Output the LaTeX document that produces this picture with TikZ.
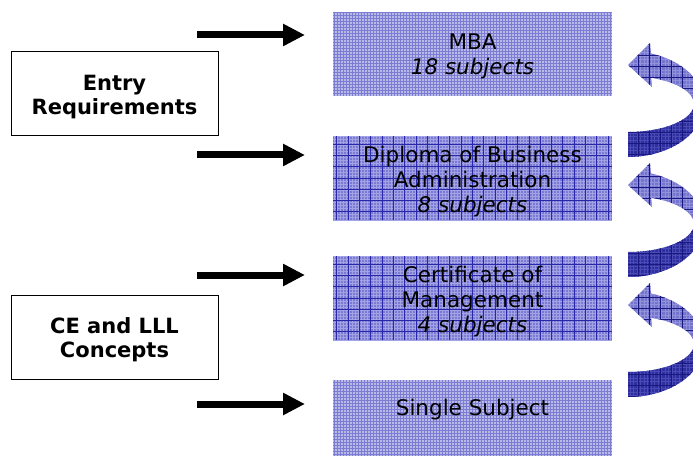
\documentclass[tikz,border=0pt]{standalone}
\usepackage{fontspec}
\setmainfont{DejaVu Sans}
\usetikzlibrary{arrows.meta,calc}

\definecolor{lightfill}{RGB}{186,186,232}
\definecolor{lightline}{RGB}{124,124,210}
\definecolor{darkfill}{RGB}{122,122,210}
\definecolor{darkfine}{RGB}{162,162,228}
\definecolor{darkline}{RGB}{40,40,168}
\definecolor{arrowlightfill}{RGB}{116,116,204}
\definecolor{arrowlightfine}{RGB}{146,146,220}
\definecolor{arrowdarkfill}{RGB}{46,46,160}
\definecolor{arrowdarkfine}{RGB}{74,74,180}
\definecolor{arrowgrid}{RGB}{24,24,128}

\tikzset{
  level/.style={minimum width=279pt, minimum height=84pt, inner sep=0pt},
  leveltext/.style={align=center, inner sep=0pt, font=\fontsize{21.5}{25}\selectfont},
  lightbox/.style={level, fill=lightfill,
    path picture={\draw[lightline, line width=0.6pt, step=3pt]
      (path picture bounding box.south west) grid (path picture bounding box.north east);}},
  darkbox/.style={level, fill=darkfill,
    path picture={
      \draw[darkfine, line width=0.6pt, step=3pt]
        (path picture bounding box.south west) grid (path picture bounding box.north east);
      \draw[darkline, line width=0.9pt, step=11.3pt]
        (path picture bounding box.south west) grid (path picture bounding box.north east);}},
  sidebox/.style={draw=black, line width=0.9pt, fill=white, minimum width=207pt,
    minimum height=84pt, inner sep=0pt},
  sidetext/.style={align=center, inner sep=0pt,
    font=\bfseries\fontsize{21}{24.5}\selectfont},
  feed/.style={line width=7pt, -{Triangle[length=22pt,width=21pt]}},
  curvetex/.style={path picture={
      \draw[#1, line width=0.6pt, step=3.5pt]
        (path picture bounding box.south west) grid (path picture bounding box.north east);
      \draw[arrowgrid, line width=0.9pt, step=11pt]
        (path picture bounding box.south west) grid (path picture bounding box.north east);}},
}

\begin{document}
\begin{tikzpicture}[x=1pt,y=1pt]
\useasboundingbox (0,0) rectangle (693,-457);

% programme levels
\node[lightbox] (mba)    at (472.5,-54)  {};
\node[darkbox]  (dba)    at (472.5,-178) {};
\node[darkbox]  (cert)   at (472.5,-298) {};
\node[lightbox, minimum height=76pt] (single) at (472.5,-418) {};

\node[leveltext] (mbat)    at ($(mba)+(0,-2.5)$)    {MBA\\\itshape 18 subjects};
\node[leveltext] (dbat)    at ($(dba)+(0,-4)$)      {Diploma of Business\\Administration\\\itshape 8 subjects};
\node[leveltext] (certt)   at ($(cert)+(0,-4)$)     {Certificate of\\Management\\\itshape 4 subjects};
\node[leveltext] (singlet) at ($(single)+(0,8)$)    {Single Subject};

% side labels
\node[sidebox] (entry) at (114.5,-93)    {};
\node[sidebox] (celll) at (114.5,-337.5) {};
\node[sidetext] (entryt) at ($(entry)+(0,-4)$) {Entry\\Requirements};
\node[sidetext] (celllt) at ($(celll)+(0,-2)$) {CE and LLL\\Concepts};

% entry arrows
\coordinate (f1) at (197,-35);  \coordinate (t1) at (305,-35);
\coordinate (f2) at (197,-155); \coordinate (t2) at (305,-155);
\coordinate (f3) at (197,-275); \coordinate (t3) at (305,-275);
\coordinate (f4) at (197,-404); \coordinate (t4) at (305,-404);
\foreach \i in {1,...,4} \draw[feed] (f\i) -- (t\i);

% curved progression arrows between levels
\foreach \cy/\n in {104/1,224/2,344/3} {
  \coordinate (c\n) at (628,-\cy);
  % underside of the band (tail)
  \fill[arrowdarkfill, curvetex=arrowdarkfine]
    ($(c\n)+(0,-53)$) arc[start angle=-90, end angle=0, x radius=76, y radius=53]
    -- ($(c\n)+(66,0)$) arc[start angle=0, end angle=-90, x radius=66, y radius=28]
    -- cycle;
  % upper side of the band with the head
  \fill[arrowlightfill, curvetex=arrowlightfine]
    ($(c\n)+(23,50.5)$) arc[start angle=72.4, end angle=0, x radius=76, y radius=53]
    -- ($(c\n)+(66,0)$) arc[start angle=0, end angle=69.6, x radius=66, y radius=28]
    -- ($(c\n)+(24,17)$) -- ($(c\n)+(0,39)$) -- ($(c\n)+(22,61)$) -- cycle;
}
\end{tikzpicture}
\end{document}
